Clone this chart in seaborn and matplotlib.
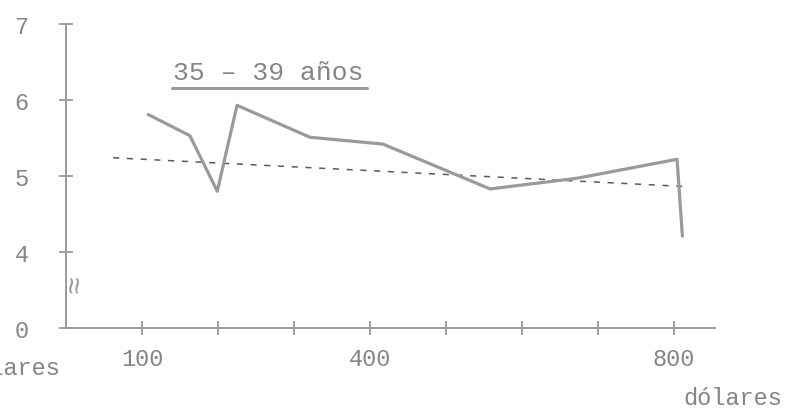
import matplotlib
matplotlib.use("Agg")
import matplotlib.pyplot as plt
import pandas as pd
import seaborn as sns

# Ingreso mensual (dólares) vs. valor promedio, grupo 35-39 años
ingreso = [108, 163, 199, 225, 321, 417, 558, 672, 804, 811]
promedio = [5.81, 5.53, 4.80, 5.93, 5.51, 5.42, 4.83, 4.97, 5.22, 4.21]

# Tendencia (línea punteada)
tend_x = [62, 818]
tend_y = [5.24, 4.86]

x_ticks = [100, 200, 300, 400, 500, 600, 700, 800]
x_labels = ['100', '', '', '400', '', '', '', '800']
y_ticks = [3, 4, 5, 6, 7]
y_labels = ['0', '4', '5', '6', '7']

gray = '#9a9a9a'
text_gray = '#858585'

sns.set_style('white')
plt.rcParams['font.family'] = ['Liberation Mono', 'DejaVu Sans Mono']

fig = plt.figure(figsize=(7.87, 4.14), dpi=100)
ax = fig.add_axes([0.0839, 0.2053, 0.8247, 0.7343])

df = pd.DataFrame({'ingreso': ingreso, 'promedio': promedio})
df_t = pd.DataFrame({'ingreso': tend_x, 'promedio': tend_y})

sns.lineplot(data=df_t, x='ingreso', y='promedio', ax=ax, color='#5a5a5a',
             linewidth=1.1, linestyle=(0, (4, 5)))
sns.lineplot(data=df, x='ingreso', y='promedio', ax=ax, color=gray,
             linewidth=2.3, sort=False)

ax.set_xlim(0, 854)
ax.set_ylim(3, 7)
ax.set_xticks(x_ticks)
ax.set_xticklabels(x_labels)
ax.set_yticks(y_ticks)
ax.set_yticklabels(y_labels)
ax.set_xlabel('')
ax.set_ylabel('')

for side in ['top', 'right']:
    ax.spines[side].set_visible(False)
for side in ['left', 'bottom']:
    ax.spines[side].set_color(gray)
    ax.spines[side].set_linewidth(1.4)

ax.tick_params(axis='both', direction='inout', length=10, width=1.3,
               color=gray, labelcolor=text_gray, labelsize=17,
               bottom=True, left=True)
ax.tick_params(axis='y', pad=22)
ax.tick_params(axis='x', pad=9)

# title underlined
ax.text(266, 6.37, '35 – 39 años', ha='center', va='center',
        fontsize=19, color=text_gray)
ax.axhline(6.16, xmin=0.163, xmax=0.464, color=gray, linewidth=2.2)

# axis break mark
ax.text(12, 3.6, '≈', rotation=90, ha='center', va='center',
        fontsize=22, color=gray)

fig.text(60 / 787, 1 - 369 / 414, 'dólares', ha='right', va='center',
         fontsize=17, color=text_gray)
fig.text(782 / 787, 1 - 399 / 414, 'dólares', ha='right', va='center',
         fontsize=17, color=text_gray)

fig.savefig('out.png', dpi=100)
